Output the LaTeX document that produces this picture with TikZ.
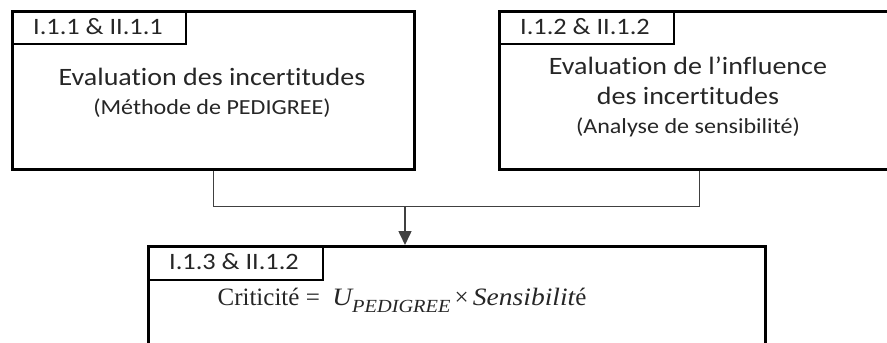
\documentclass[tikz,border=0pt]{standalone}
\usepackage{fontspec}
\setmainfont{Carlito}[FakeStretch=1.12,Ligatures={NoCommon}]
\newfontfamily\mathserif{Liberation Serif}
\newfontfamily\mathital{Liberation Serif Italic}[FakeStretch=1.1]
\usetikzlibrary{arrows.meta}
\definecolor{txt}{HTML}{262626}
\begin{document}
\begin{tikzpicture}[x=1pt,y=-1pt,
  bigbox/.style={draw=black,line width=2.6pt},
  tabbox/.style={draw=black,line width=1.8pt},
  conn/.style={draw=black!75,line width=1pt},
  tabtext/.style={text=txt,font=\fontsize{23.5}{26}\selectfont,inner sep=0pt},
  maintext/.style={text=txt,font=\fontsize{25}{30}\selectfont,inner sep=0pt,align=center},
  subtext/.style={text=txt,font=\fontsize{21.5}{24}\selectfont,inner sep=0pt,align=center}]
\useasboundingbox (0,0) rectangle (887,343);
\begin{scope}
\clip (0,0) rectangle (887,343);
% box 1
\node[bigbox,minimum width=402pt,minimum height=158pt,anchor=north west,inner sep=0pt] (b1) at (11,10) {};
\node[tabbox,minimum width=174pt,minimum height=33pt,anchor=north west,inner sep=0pt] (t1) at (11,10) {};
\node[tabtext] (t1l) at (98,27) {I.1.1 \& II.1.1};
\node[maintext] (b1a) at (212,77) {Evaluation des incertitudes};
\node[subtext] (b1b) at (212,108) {(Méthode de PEDIGREE)};
% box 2
\node[bigbox,minimum width=392pt,minimum height=158pt,anchor=north west,inner sep=0pt] (b2) at (498,10) {};
\node[tabbox,minimum width=175pt,minimum height=33pt,anchor=north west,inner sep=0pt] (t2) at (498,10) {};
\node[tabtext] (t2l) at (585,27) {I.1.2 \& II.1.2};
\node[maintext] (b2a) at (688,81) {Evaluation de l’influence\\des incertitudes};
\node[subtext] (b2b) at (688,127) {(Analyse de sensibilité)};
% box 3
\node[bigbox,minimum width=617pt,minimum height=110pt,anchor=north west,inner sep=0pt] (b3) at (147,245) {};
\node[tabbox,minimum width=175pt,minimum height=34pt,anchor=north west,inner sep=0pt] (t3) at (147,245) {};
\node[tabtext] (t3l) at (234,262) {I.1.3 \& II.1.2};
\node[text=txt,inner sep=0pt,font=\mathserif\fontsize{25}{28}\selectfont] (f) at (402,300) {Criticité =\ \ {\mathital U}\raisebox{-0.28em}{\mathital\fontsize{18.5}{20}\selectfont PEDIGREE}\,×\,{\mathital Sensibilit}é};
\end{scope}
% connectors
\coordinate (j) at (405,206);
\draw[conn] (b1.south -| 213,0) |- (j);
\draw[conn] (b2.south -| 699,0) |- (j);
\draw[conn,line width=1.6pt,-{Triangle[length=14pt,width=13pt]}] (j) -- (j |- b3.north);
\end{tikzpicture}
\end{document}
